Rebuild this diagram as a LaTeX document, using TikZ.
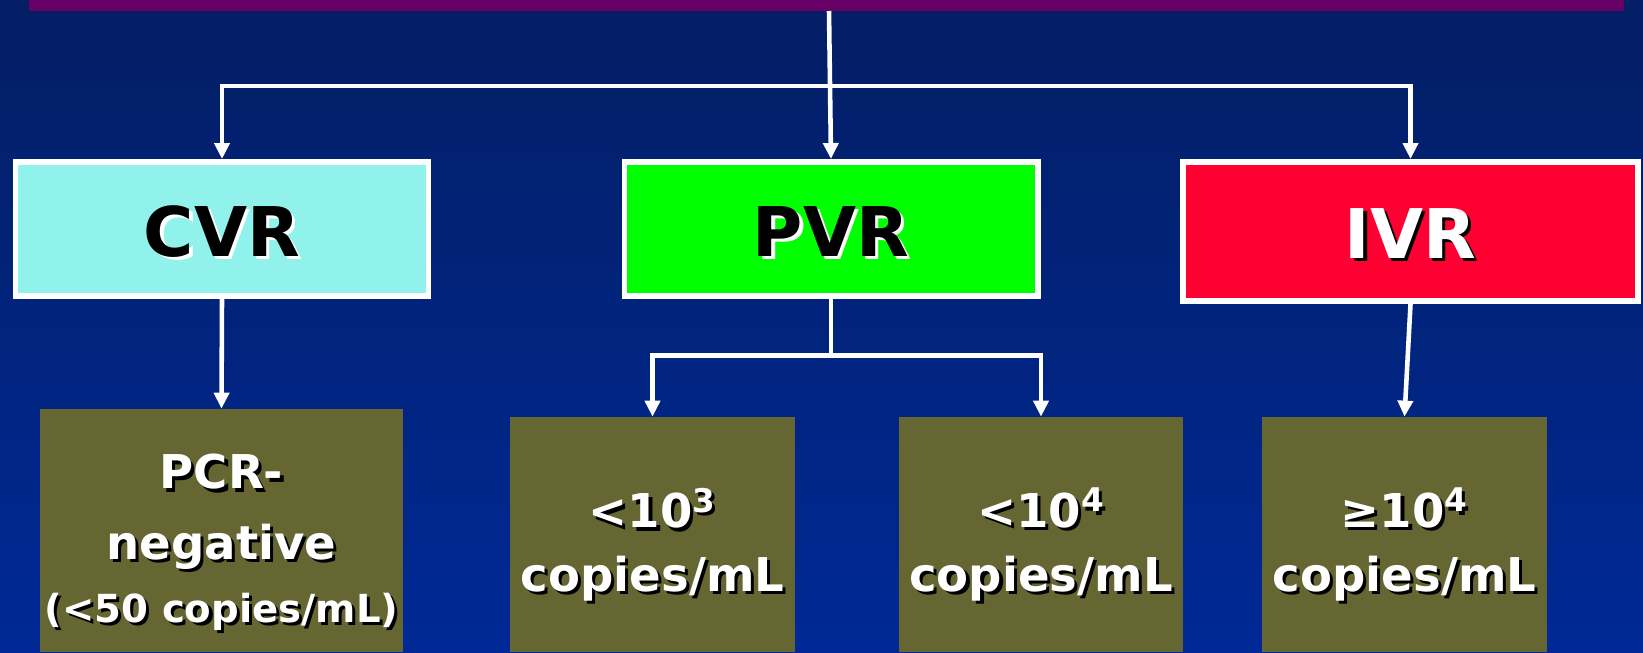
\documentclass[tikz,border=0pt]{standalone}
\usepackage{fontspec}
\setmainfont{DejaVu Sans}
\usepackage{xcolor}
\definecolor{vlbgtop}{RGB}{3,30,100}
\definecolor{vlbgbot}{RGB}{0,41,150}
\definecolor{vlpurple}{RGB}{102,0,102}
\definecolor{vlcyan}{RGB}{144,242,234}
\definecolor{vlgreen}{RGB}{0,255,0}
\definecolor{vlred}{RGB}{255,0,51}
\definecolor{vlolive}{RGB}{102,102,51}
\usepackage{tikz}
\usetikzlibrary{arrows.meta, positioning}

% text with a drop shadow: #1 text colour, #2 shadow colour
\newcommand{\shtxt}[3]{\leavevmode\rlap{\kern1.8pt\raisebox{-1.8pt}{\textcolor{#2}{#3}}}\textcolor{#1}{#3}}

\tikzset{
  ratebox/.style={draw=white, line width=3.4pt, minimum width=8.26cm,
                  minimum height=2.68cm, text height=33pt, text depth=2pt,
                  font=\fontsize{39}{46}\selectfont\bfseries},
  countbox/.style={fill=vlolive, minimum width=5.7cm, minimum height=4.7cm},
  counttext/.style={align=center, font=\fontsize{26.5}{36}\selectfont\bfseries},
  flowline/.style={draw=white, line width=2.6pt},
  flowarrow/.style={flowline, -{Triangle[length=0.32cm,width=0.3cm]}}
}

\begin{document}
\begin{tikzpicture}

% === Background ===
\shade[top color=vlbgtop, bottom color=vlbgbot] (0,0) rectangle (32.86,13.04);
\useasboundingbox (0,0) rectangle (32.86,13.04);
\fill[vlpurple] (0.58,12.82) rectangle (32.48,13.2);

% === Response boxes ===
\node[ratebox, fill=vlcyan] (cvr) at (4.44,8.46) {\shtxt{black}{white}{CVR}};
\node[ratebox, fill=vlgreen] (pvr) at (16.62,8.46) {\shtxt{black}{white}{PVR}};
\node[ratebox, fill=vlred, minimum width=9.1cm, minimum height=2.78cm]
     (ivr) at (28.21,8.41) {\shtxt{white}{black}{IVR}};

% === Viral load boxes ===
\node[countbox, minimum width=7.26cm, minimum height=4.86cm] (pcrneg) at (4.43,2.43) {};
\node[counttext] (pcrnegtext) at ([yshift=-0.27cm]pcrneg.center)
     {\shtxt{white}{black}{PCR-}\\[4pt]
      \shtxt{white}{black}{negative}\\
      {\fontsize{22}{36}\selectfont\shtxt{white}{black}{(<50 copies/mL)}}};

\node[countbox] (lt3) at (13.05,2.35) {};
\node[counttext] (lt3text) at ([yshift=-0.23cm]lt3.center)
     {\shtxt{white}{black}{<10\textsuperscript{3}}\\ \shtxt{white}{black}{copies/mL}};

\node[countbox, minimum width=5.68cm] (lt4) at (20.82,2.35) {};
\node[counttext] (lt4text) at ([yshift=-0.23cm]lt4.center)
     {\shtxt{white}{black}{<10\textsuperscript{4}}\\ \shtxt{white}{black}{copies/mL}};

\node[countbox] (ge4) at (28.09,2.35) {};
\node[counttext] (ge4text) at ([yshift=-0.23cm]ge4.center)
     {\shtxt{white}{black}{≥10\textsuperscript{4}}\\ \shtxt{white}{black}{copies/mL}};

% === Connectors ===
\coordinate (title) at (16.58,12.82);
\coordinate (split) at (16.58,11.32);
\coordinate (pvrsplit) at (16.62,5.93);
\draw[flowarrow] (title) -- (pvr.north);
\draw[flowarrow] (split) -| (cvr.north);
\draw[flowarrow] (split) -| (ivr.north);
\draw[flowarrow] (cvr.south) -- (pcrneg.north);
\draw[flowline] (pvr.south) -- (pvrsplit);
\draw[flowarrow] (pvrsplit) -| (lt3.north);
\draw[flowarrow] (pvrsplit) -| (lt4.north);
\draw[flowarrow] (ivr.south) -- (ge4.north);

\end{tikzpicture}
\end{document}
